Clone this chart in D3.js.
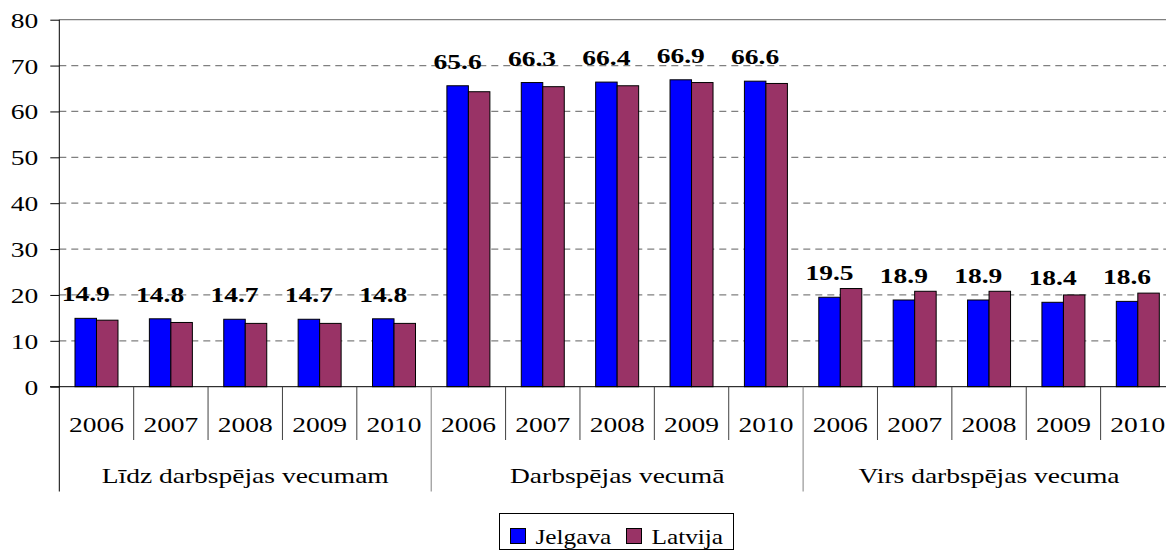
<!DOCTYPE html>
<html>
<head>
<meta charset="utf-8">
<script src="https://cdn.jsdelivr.net/npm/d3@7"></script>
<style>
  body { margin: 0; background: #fff; }
  svg { display: block; }
</style>
</head>
<body>
<div id="chart"></div>
<script>
var groups = ["Līdz darbspējas vecumam", "Darbspējas vecumā", "Virs darbspējas vecuma"];
var years = ["2006", "2007", "2008", "2009", "2010"];
var seriesNames = ["Jelgava", "Latvija"];
var seriesColors = ["#0000ff", "#993366"];

// values per group, years 2006..2010
var jelgava = [
  [14.9, 14.8, 14.7, 14.7, 14.8],
  [65.6, 66.3, 66.4, 66.9, 66.6],
  [19.5, 18.9, 18.9, 18.4, 18.6]
];
var latvija = [
  [14.5, 14.0, 13.8, 13.8, 13.8],
  [64.3, 65.4, 65.6, 66.3, 66.1],
  [21.4, 20.8, 20.8, 20.0, 20.4]
];
var yTicks = [0, 10, 20, 30, 40, 50, 60, 70, 80];

var width = 1166,
    height = 551;
var plotLeft = 59.3,
    plotRight = 1175,   // plot runs past the window edge, like the original
    plotTop = 19.7,
    plotBottom = 386.7;
var stretch = 1.25; // text in the source is drawn wide
var serif = "'Liberation Serif', 'DejaVu Serif', 'Noto Serif', serif";

var svg = d3.select("#chart").append("svg")
    .attr("width", width)
    .attr("height", height);

// one row per bar pair
var rows = [];
groups.forEach(function(g, gi) {
  years.forEach(function(yr, yi) {
    rows.push({key: gi + "-" + yr, group: gi, year: yr, vals: [jelgava[gi][yi], latvija[gi][yi]]});
  });
});

var x = d3.scaleBand()
    .domain(rows.map(function(d){ return d.key; }))
    .range([plotLeft, plotRight]);

var xs = d3.scaleBand()
    .domain(seriesNames)
    .range([0, x.bandwidth()])
    .paddingOuter(0.73);

var y = d3.scaleLinear()
    .domain([0, 80])
    .range([plotBottom, plotTop]);

// gridlines
svg.append("g").selectAll("line")
  .data(yTicks.filter(function(t){ return t > 0; }))
  .enter().append("line")
  .attr("x1", plotLeft).attr("x2", plotRight)
  .attr("y1", function(d){ return y(d); })
  .attr("y2", function(d){ return y(d); })
  .attr("stroke", "#808080")
  .attr("stroke-width", 1.3)
  .attr("stroke-dasharray", function(d){ return d === 80 ? null : "7,5"; });

// y axis
var yAxis = svg.append("g")
    .attr("transform", "translate(" + plotLeft + ",0)")
    .call(d3.axisLeft(y).tickValues(yTicks).tickSize(9).tickPadding(12));
yAxis.attr("font-family", serif);
yAxis.select(".domain").remove();
yAxis.selectAll(".tick line").attr("stroke", "#000");
yAxis.selectAll(".tick text")
    .attr("font-size", 22)
    .attr("font-family", serif)
    .attr("dy", "0.34em")
    .attr("transform", "translate(-21,0) scale(" + stretch + ",1)")
    .attr("x", 0);
svg.append("line")
  .attr("x1", plotLeft).attr("x2", plotLeft)
  .attr("y1", plotTop).attr("y2", 491.5)
  .attr("stroke", "#000");

// bars
var pair = svg.append("g").selectAll("g")
  .data(rows)
  .enter().append("g")
  .attr("transform", function(d){ return "translate(" + x(d.key) + ",0)"; });

pair.selectAll("rect")
  .data(function(d){ return d.vals.map(function(v, i){ return {name: seriesNames[i], v: v, c: seriesColors[i]}; }); })
  .enter().append("rect")
  .attr("x", function(d){ return xs(d.name); })
  .attr("width", xs.bandwidth())
  .attr("y", function(d){ return y(d.v); })
  .attr("height", function(d){ return y(0) - y(d.v); })
  .attr("fill", function(d){ return d.c; })
  .attr("stroke", "#000")
  .attr("stroke-width", 1);

// value labels over Jelgava bars
pair.append("text")
  .attr("transform", function(d){
    return "translate(" + (xs("Jelgava") + xs.bandwidth() / 2) + "," + (y(d.vals[0]) - 17) + ") scale(" + stretch + ",1)";
  })
  .attr("text-anchor", "middle")
  .attr("font-family", serif)
  .attr("font-size", 22)
  .attr("font-weight", "bold")
  .text(function(d){ return d3.format(".1f")(d.vals[0]); });

// x axis line
svg.append("line")
  .attr("x1", 50).attr("x2", plotRight)
  .attr("y1", plotBottom).attr("y2", plotBottom)
  .attr("stroke", "#000");

// year separators and labels
var sep = svg.append("g");
rows.forEach(function(d, i) {
  var x0 = x(d.key);
  var first = i % years.length === 0;
  if (i > 0) {
    sep.append("line")
      .attr("x1", x0).attr("x2", x0)
      .attr("y1", plotBottom).attr("y2", first ? 491.5 : 440)
      .attr("stroke", first ? "#808080" : "#404040");
  }
  sep.append("text")
    .attr("transform", "translate(" + (x0 + x.bandwidth() / 2) + ",432) scale(" + stretch + ",1)")
    .attr("text-anchor", "middle")
    .attr("font-family", serif)
    .attr("font-size", 22)
    .text(d.year);
});
svg.append("line")
  .attr("x1", plotRight).attr("x2", plotRight)
  .attr("y1", plotBottom).attr("y2", 491.5)
  .attr("stroke", "#808080");

// group labels
groups.forEach(function(g, gi) {
  var a = x(gi + "-" + years[0]);
  var b = x(gi + "-" + years[years.length - 1]) + x.bandwidth();
  svg.append("text")
    .attr("transform", "translate(" + ((a + b) / 2) + ",483) scale(" + stretch + ",1)")
    .attr("text-anchor", "middle")
    .attr("font-family", serif)
    .attr("font-size", 22)
    .text(g);
});

// legend
var lg = svg.append("g").attr("transform", "translate(499.5,513.5)");
lg.append("rect")
  .attr("width", 234).attr("height", 36)
  .attr("fill", "#fff")
  .attr("stroke", "#000");
var itemX = [11, 127];
seriesNames.forEach(function(n, i) {
  lg.append("rect")
    .attr("x", itemX[i]).attr("y", 15)
    .attr("width", 15).attr("height", 15)
    .attr("fill", seriesColors[i])
    .attr("stroke", "#000");
  lg.append("text")
    .attr("transform", "translate(" + (itemX[i] + 25) + ",30) scale(1.15,1)")
    .attr("font-family", serif)
    .attr("font-size", 22)
    .text(n);
});
</script>
</body>
</html>
